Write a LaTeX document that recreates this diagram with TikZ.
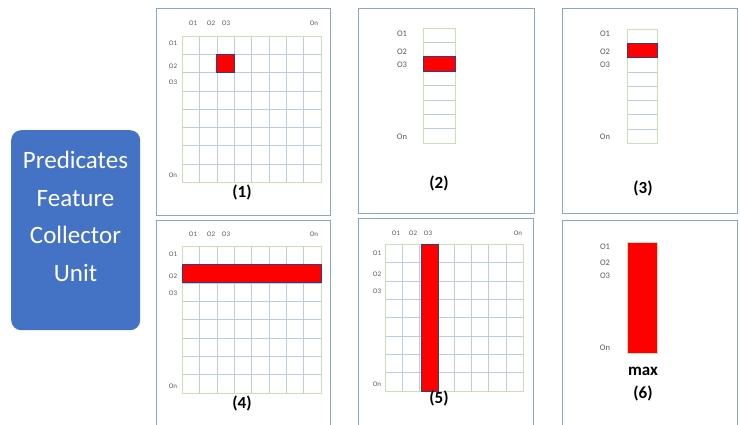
\documentclass[tikz,border=0pt]{standalone}
\usepackage{fontspec}
\setmainfont{Carlito}
\usetikzlibrary{positioning}

\definecolor{unitblue}{RGB}{68,114,196}
\definecolor{panelblue}{RGB}{140,165,205}
\definecolor{gridblue}{RGB}{185,205,235}
\definecolor{gridgreen}{RGB}{200,225,185}
\definecolor{hitedge}{RGB}{60,60,110}
\definecolor{labgray}{RGB}{90,90,90}

\begin{document}
\begin{tikzpicture}[x=1pt, y=-1pt,
  panel/.style={draw=panelblue, line width=0.8pt, fill=white, anchor=north west, inner sep=0pt},
  gridln/.style={draw=gridblue, line width=0.5pt},
  gridout/.style={draw=gridgreen, line width=0.7pt},
  hit/.style={fill=red, draw=hitedge, line width=0.6pt},
  axlab/.style={font=\fontsize{7}{8}\selectfont, text=labgray, inner sep=0pt},
  collab/.style={font=\fontsize{8.5}{9}\selectfont, text=labgray, inner sep=0pt},
  caption/.style={font=\fontsize{17}{19}\selectfont\bfseries, inner sep=0pt},
  unitbox/.style={fill=unitblue, rounded corners=10pt, anchor=north west, inner sep=0pt},
  unittext/.style={text=white, align=center, font=\fontsize{25}{37.5}\selectfont, inner sep=0pt}
]
\clip (0,0) rectangle (740,424);

% left unit
\node[unitbox, minimum width=129pt, minimum height=200pt] (unit) at (11,130) {};
\node[unittext] (unittxt) at (75.5,216.5) {Predicates\\Feature\\Collector\\Unit};

% panel frames
\node[panel, minimum width=174pt, minimum height=207pt] (p1) at (156,8) {};
\node[panel, minimum width=176pt, minimum height=205pt] (p2) at (358,8) {};
\node[panel, minimum width=175pt, minimum height=205pt] (p3) at (562,8) {};
\node[panel, minimum width=174pt, minimum height=215pt] (p4) at (156,220) {};
\node[panel, minimum width=175pt, minimum height=215pt] (p5) at (358,218) {};
\node[panel, minimum width=175pt, minimum height=215pt] (p6) at (562,220) {};

% (1) single pair
\begin{scope}[shift={(182,36)}]
  \foreach \k in {0,...,8} {
    \draw[gridln] (\k*17.375,0) -- (\k*17.375,146);
    \draw[gridln] (0,\k*18.25) -- (139,\k*18.25);
  }
  \draw[gridout] (0,0) rectangle (139,146);
  \draw[hit] (2*17.375,18.25) rectangle (3*17.375,2*18.25);
\end{scope}
\node[axlab] (c1a) at (193,23) {O1};
\node[axlab] (c1b) at (211,23) {O2};
\node[axlab] (c1c) at (226,23) {O3};
\node[axlab] (c1n) at (314,23) {On};
\node[axlab] (r1a) at (173,43) {O1};
\node[axlab] (r1b) at (173,66) {O2};
\node[axlab] (r1c) at (173,82) {O3};
\node[axlab] (r1n) at (173,175) {On};
\node[caption] (cap1) at (242,192) {(1)};

% (2) column
\begin{scope}[shift={(423,28)}]
  \foreach \k in {0,...,8} {
    \draw[gridln] (0,\k*14.375) -- (32,\k*14.375);
  }
  \draw[gridout] (0,0) rectangle (32,115);
  \draw[hit] (0,2*14.375) rectangle (32,3*14.375);
\end{scope}
\node[collab] (l2a) at (402,34) {O1};
\node[collab] (l2b) at (402,52) {O2};
\node[collab] (l2c) at (402,65) {O3};
\node[collab] (l2n) at (402,137) {On};
\node[caption] (cap2) at (439,183) {(2)};

% (3) column
\begin{scope}[shift={(627,29)}]
  \foreach \k in {0,...,8} {
    \draw[gridln] (0,\k*14.25) -- (30,\k*14.25);
  }
  \draw[gridout] (0,0) rectangle (30,114);
  \draw[hit] (0,14.25) rectangle (30,2*14.25);
\end{scope}
\node[collab] (l3a) at (605,34) {O1};
\node[collab] (l3b) at (605,52) {O2};
\node[collab] (l3c) at (605,65) {O3};
\node[collab] (l3n) at (605,137) {On};
\node[caption] (cap3) at (643,188) {(3)};

% (4) row
\begin{scope}[shift={(182,246)}]
  \foreach \k in {0,...,8} {
    \draw[gridln] (\k*17.375,0) -- (\k*17.375,147);
    \draw[gridln] (0,\k*18.375) -- (139,\k*18.375);
  }
  \draw[gridout] (0,0) rectangle (139,147);
  \draw[hit] (0,18.375) rectangle (139,2*18.375);
\end{scope}
\node[axlab] (c4a) at (193,234) {O1};
\node[axlab] (c4b) at (211,234) {O2};
\node[axlab] (c4c) at (226,234) {O3};
\node[axlab] (c4n) at (314,234) {On};
\node[axlab] (r4a) at (173,254) {O1};
\node[axlab] (r4b) at (173,276) {O2};
\node[axlab] (r4c) at (173,293) {O3};
\node[axlab] (r4n) at (173,386) {On};
\node[caption] (cap4) at (242,403) {(4)};

% (5) column of matrix
\begin{scope}[shift={(385,244)}]
  \foreach \k in {0,...,8} {
    \draw[gridln] (\k*17.25,0) -- (\k*17.25,147);
    \draw[gridln] (0,\k*18.375) -- (138,\k*18.375);
  }
  \draw[gridout] (0,0) rectangle (138,147);
  \draw[hit] (2*17.25+1.5,0) rectangle (3*17.25+1.5,147);
\end{scope}
\node[axlab] (c5a) at (396,233) {O1};
\node[axlab] (c5b) at (413,233) {O2};
\node[axlab] (c5c) at (428,233) {O3};
\node[axlab] (c5n) at (518,233) {On};
\node[axlab] (r5a) at (377,253) {O1};
\node[axlab] (r5b) at (377,274) {O2};
\node[axlab] (r5c) at (377,291) {O3};
\node[axlab] (r5n) at (377,384) {On};
\node[caption] (cap5) at (439,398) {(5)};

% (6) max
\draw[hit, draw=gridgreen] (627,242) rectangle (657,353);
\node[collab] (l6a) at (605,247) {O1};
\node[collab] (l6b) at (605,263) {O2};
\node[collab] (l6c) at (605,276) {O3};
\node[collab] (l6n) at (605,348) {On};
\node[caption] (maxlab) at (643,371) {max};
\node[caption] (cap6) at (643,393) {(6)};
\end{tikzpicture}
\end{document}
